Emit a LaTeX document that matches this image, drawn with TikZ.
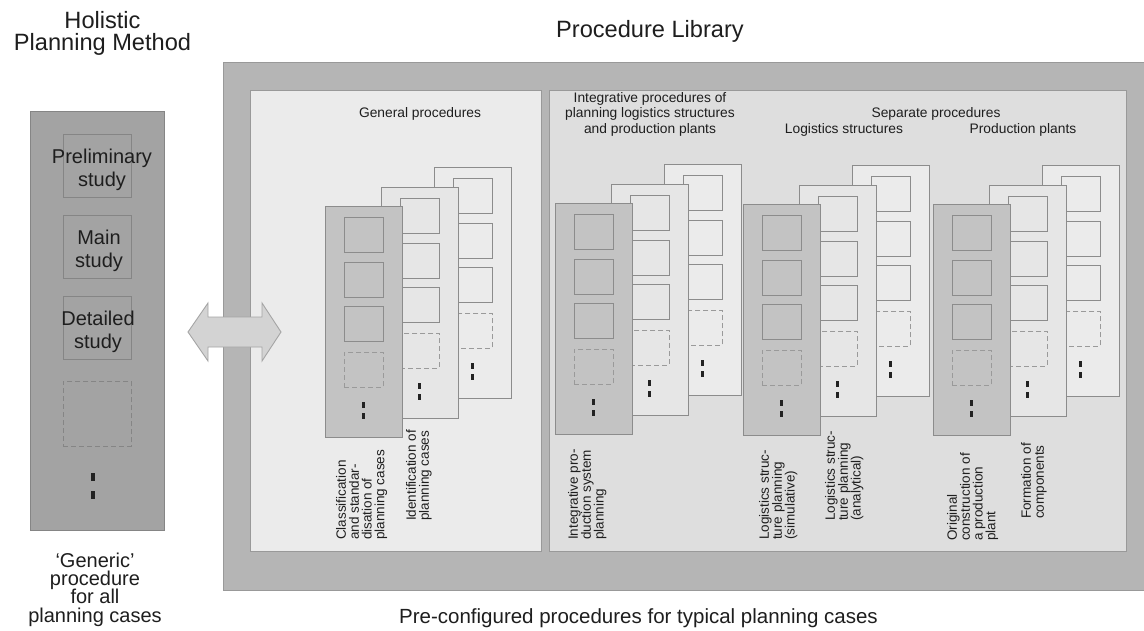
\documentclass[tikz,border=0pt]{standalone}
\usepackage{fontspec}
\setmainfont{Liberation Sans}
\definecolor{txt}{HTML}{1E1E1E}
\definecolor{libframe}{HTML}{B5B5B5}
\definecolor{frameline}{HTML}{999999}
\definecolor{genbg}{HTML}{EBEBEB}
\definecolor{sepbg}{HTML}{DEDEDE}
\definecolor{leftbg}{HTML}{A3A3A3}
\definecolor{leftline}{HTML}{858585}
\definecolor{cardfront}{HTML}{C3C3C3}
\definecolor{cardmid}{HTML}{E6E6E6}
\definecolor{cardback}{HTML}{EBEBEB}
\definecolor{cardline}{HTML}{8C8C8C}
\definecolor{dashc}{HTML}{9A9A9A}
\definecolor{dotcol}{HTML}{222222}
\definecolor{arrowfill}{HTML}{D3D3D3}
\definecolor{arrowline}{HTML}{A5A5A5}
\tikzset{
 panel/.style={draw=frameline, line width=0.9pt, anchor=north west, inner sep=0pt, outer sep=0pt},
 cardbox/.style={draw=cardline, line width=0.9pt, anchor=north west, inner sep=0pt, minimum width=77pt, minimum height=231pt},
 stepbox/.style={draw=cardline, line width=0.9pt, anchor=north west, inner sep=0pt, minimum width=39pt, minimum height=35pt},
 dashbox/.style={stepbox, draw=dashc, dash pattern=on 5pt off 3pt},
 leftbox/.style={draw=leftline, line width=0.9pt, anchor=north west, inner sep=0pt, minimum width=68pt, minimum height=63pt},
 leftdash/.style={leftbox, minimum height=65pt, dash pattern=on 5pt off 3pt},
 hdr/.style={font=\fontsize{13.8}{15.5}\selectfont, text=txt, inner sep=0pt, anchor=base},
 rlabel/.style={rotate=90, anchor=north west, align=left, inner sep=0pt, text=txt, font=\fontsize{13.5}{12.8}\selectfont},
 bigtext/.style={font=\fontsize{23.6}{22}\selectfont, text=txt, inner sep=0pt, anchor=base},
 midtext/.style={font=\fontsize{20}{18.3}\selectfont, text=txt, inner sep=0pt, anchor=base},
 boxtext/.style={font=\fontsize{20}{23}\selectfont, text=txt, inner sep=0pt, align=center},
}
% one card: name, x, y, fill
\newcommand\onecard[4]{%
 \begin{scope}[shift={(#2,#3)}]
  \node[cardbox, fill=#4] (#1) at (0,0) {};
  \node[stepbox] (#1-a) at (19,11) {};
  \node[stepbox] (#1-b) at (19,56) {};
  \node[stepbox] (#1-c) at (19,100) {};
  \node[dashbox] (#1-d) at (19,146) {};
  \fill[dotcol] (36.5,196) rectangle ++(3,6);
  \fill[dotcol] (36.5,207) rectangle ++(3,6);
 \end{scope}}
% stack of three cards: prefix, x, y of front card
\newcommand\cardstack[3]{%
 \onecard{#1-back}{#2+109}{#3-39}{cardback}
 \onecard{#1-mid}{#2+56}{#3-19.5}{cardmid}
 \onecard{#1-front}{#2}{#3}{cardfront}}
\begin{document}
\begin{tikzpicture}[x=1pt,y=-1pt]
\useasboundingbox (0,0) rectangle (1144,630);
\fill[white] (0,0) rectangle (1144,630);

% titles
\node[bigtext] (t1) at (102.5,28) {Holistic};
\node[bigtext] (t2) at (102.5,50) {Planning Method};
\node[bigtext] (t3) at (650,37) {Procedure Library};

% left panel
\node[panel, draw=leftline, fill=leftbg, minimum width=134pt, minimum height=419pt] (left) at (30,111) {};
\node[leftbox] (pre) at (63,134) {};
\node[leftbox] (main) at (63,215) {};
\node[leftbox] (det) at (63,296) {};
\node[leftdash] (more) at (63,381) {};
\node[boxtext] (pret) at (102,169.8) {Preliminary\\study};
\node[boxtext] (maint) at (99,250.8) {Main\\study};
\node[boxtext] (dett) at (98,331.8) {Detailed\\study};
\fill[dotcol] (91,473) rectangle ++(4,8);
\fill[dotcol] (91,491) rectangle ++(4,8);

\node[midtext] (g1) at (95,567) {`Generic'};
\node[midtext] (g2) at (95,585) {procedure};
\node[midtext] (g3) at (95,603) {for all};
\node[midtext] (g4) at (95,622) {planning cases};

% library
\node[panel, fill=libframe, minimum width=935pt, minimum height=528pt] (lib) at (223,62) {};
\node[panel, fill=genbg, minimum width=291pt, minimum height=461pt] (gen) at (250,90) {};
\node[panel, fill=sepbg, minimum width=577pt, minimum height=461pt] (sep) at (549,90) {};

\node[hdr] (h1) at (420,117) {General procedures};
\node[hdr] (h2) at (650,102) {Integrative procedures of};
\node[hdr] (h3) at (650,117.5) {planning logistics structures};
\node[hdr] (h4) at (650,133) {and production plants};
\node[hdr] (h5) at (936,117.5) {Separate procedures};
\node[hdr] (h6) at (844,133) {Logistics structures};
\node[hdr] (h7) at (1023,133) {Production plants};

\cardstack{gp}{325}{206}
\cardstack{ip}{555}{203}
\cardstack{lp}{743}{204}
\cardstack{pp}{933}{204}

\node[rlabel] (l1) at (336,540) {Classification\\and standar-\\disation of\\planning cases};
\node[rlabel] (l2) at (406,521) {Identification of\\planning cases};
\node[rlabel] (l3) at (568,540) {Integrative pro-\\duction system\\planning};
\node[rlabel] (l4) at (759,540) {Logistics struc-\\ture planning\\(simulative)};
\node[rlabel] (l5) at (825,521) {Logistics struc-\\ture planning\\(analytical)};
\node[rlabel] (l6) at (947,541) {Original\\construction of\\a production\\plant};
\node[rlabel] (l7) at (1021,519) {Formation of\\components};

% double arrow
\draw[draw=arrowline, fill=arrowfill, line width=0.9pt, line join=miter]
 (188,332) -- (208,303) -- (208,317) -- (262,317) -- (262,303) -- (281,332)
 -- (262,361) -- (262,347) -- (208,347) -- (208,361) -- cycle;

\node[font=\fontsize{20.5}{22}\selectfont, text=txt, inner sep=0pt, anchor=base] (bot) at (638.5,623) {Pre-configured procedures for typical planning cases};
\end{tikzpicture}
\end{document}
